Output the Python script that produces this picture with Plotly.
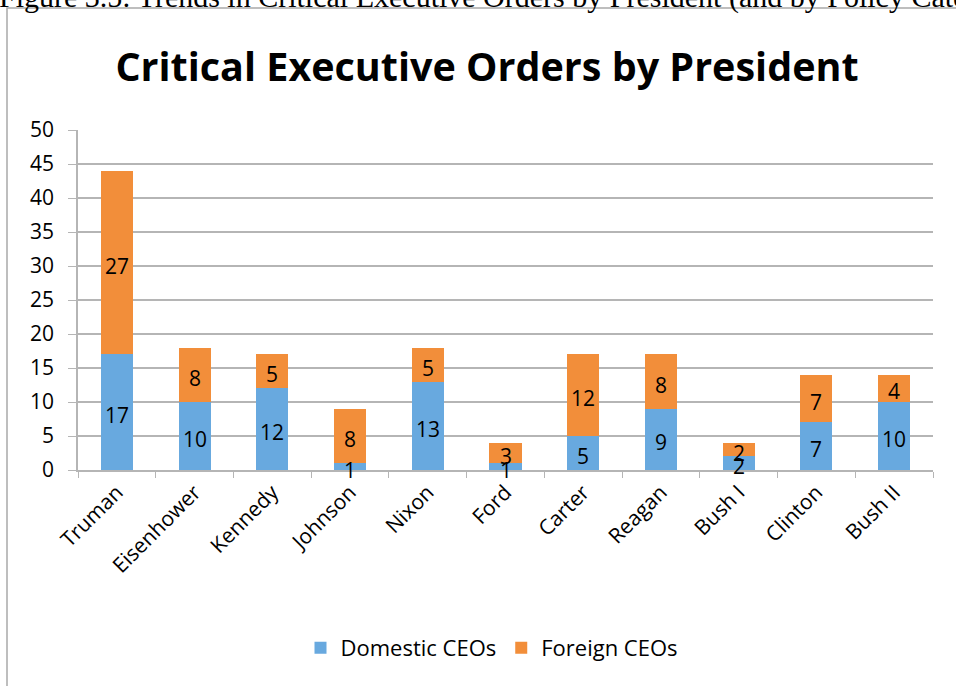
import plotly.graph_objects as go

presidents = ["Truman", "Eisenhower", "Kennedy", "Johnson", "Nixon", "Ford",
              "Carter", "Reagan", "Bush I", "Clinton", "Bush II"]
domestic_ceos = [17, 10, 12, 1, 13, 1, 5, 9, 2, 7, 10]
foreign_ceos = [27, 8, 5, 8, 5, 3, 12, 8, 2, 7, 4]
y_ticks = list(range(0, 55, 5))

W, H = 956, 686
ML, MR, MT, MB = 78, 23, 130, 216
PW, PH = W - ML - MR, H - MT - MB


def px_x(px):
    return (px - ML) / PW


def px_y(py):
    return (H - MB - py) / PH


font_main = "'Open Sans', Lato, sans-serif"
grid = "#b5b5b5"

fig = go.Figure()
fig.add_trace(go.Bar(
    name="Domestic CEOs", x=presidents, y=domestic_ceos,
    marker=dict(color="#68a9df", line=dict(width=0)),
    hoverinfo="x+y",
))
fig.add_trace(go.Bar(
    name="Foreign CEOs", x=presidents, y=foreign_ceos,
    marker=dict(color="#f28e3a", line=dict(width=0)),
    hoverinfo="x+y",
))

# value labels centred in each stacked segment, drawn above all bars
dom_mid = [d / 2 for d in domestic_ceos]
for_mid = [d + f / 2 for d, f in zip(domestic_ceos, foreign_ceos)]
value_labels = []
for mids, vals in ((dom_mid, domestic_ceos), (for_mid, foreign_ceos)):
    for name, mid, v in zip(presidents, mids, vals):
        value_labels.append(dict(
            x=name, y=mid, xref="x", yref="y", text=str(v), showarrow=False,
            xanchor="center", yanchor="middle", yshift=-3,
            font=dict(size=21, color="black", family=font_main),
        ))

caption = dict(
    text="Figure 3.5: Trends in Critical Executive Orders by President (and by Policy Category)",
    xref="paper", yref="paper", x=px_x(-3), xanchor="left",
    y=px_y(-3), yanchor="middle", showarrow=False,
    font=dict(size=30, family="'Liberation Serif', serif", color="black"),
)

fig.update_layout(
    width=W, height=H,
    margin=dict(l=ML, r=MR, t=MT, b=MB, autoexpand=False),
    barmode="stack", bargap=0.588,
    plot_bgcolor="white", paper_bgcolor="white",
    font=dict(family=font_main, size=21, color="black"),
    title=dict(text="<b>Critical Executive Orders by President</b>",
               x=px_x(487), xanchor="center", xref="paper",
               y=1 - 67 / H, yanchor="middle", yref="container",
               font=dict(size=39.5, family=font_main, color="black")),
    legend=dict(orientation="h", x=px_x(492), xanchor="center",
                y=px_y(648), yanchor="middle",
                font=dict(size=22, color="black", family=font_main),
                itemwidth=30, traceorder="normal"),
    xaxis=dict(type="category", range=[-0.5, len(presidents) - 0.5],
               tickson="boundaries", ticks="outside",
               ticklen=6, tickcolor=grid, showline=True, linecolor=grid,
               linewidth=1.5, tickangle=-45, showgrid=False,
               tickfont=dict(size=21, color="black")),
    yaxis=dict(range=[0, 50], tickvals=y_ticks, ticks="outside", ticklen=8,
               tickcolor=grid, showline=True, linecolor=grid, linewidth=1.5,
               gridcolor=grid, gridwidth=1.5, zeroline=False,
               ticklabelstandoff=10, tickfont=dict(size=21, color="black")),
    shapes=[dict(type="rect", xref="paper", yref="paper",
                 x0=px_x(7), y0=px_y(H + 20), x1=px_x(W + 20), y1=px_y(8),
                 line=dict(color="#a9a9a9", width=1.5), layer="below")],
    annotations=value_labels + [caption],
)

fig.write_html("out.html")
